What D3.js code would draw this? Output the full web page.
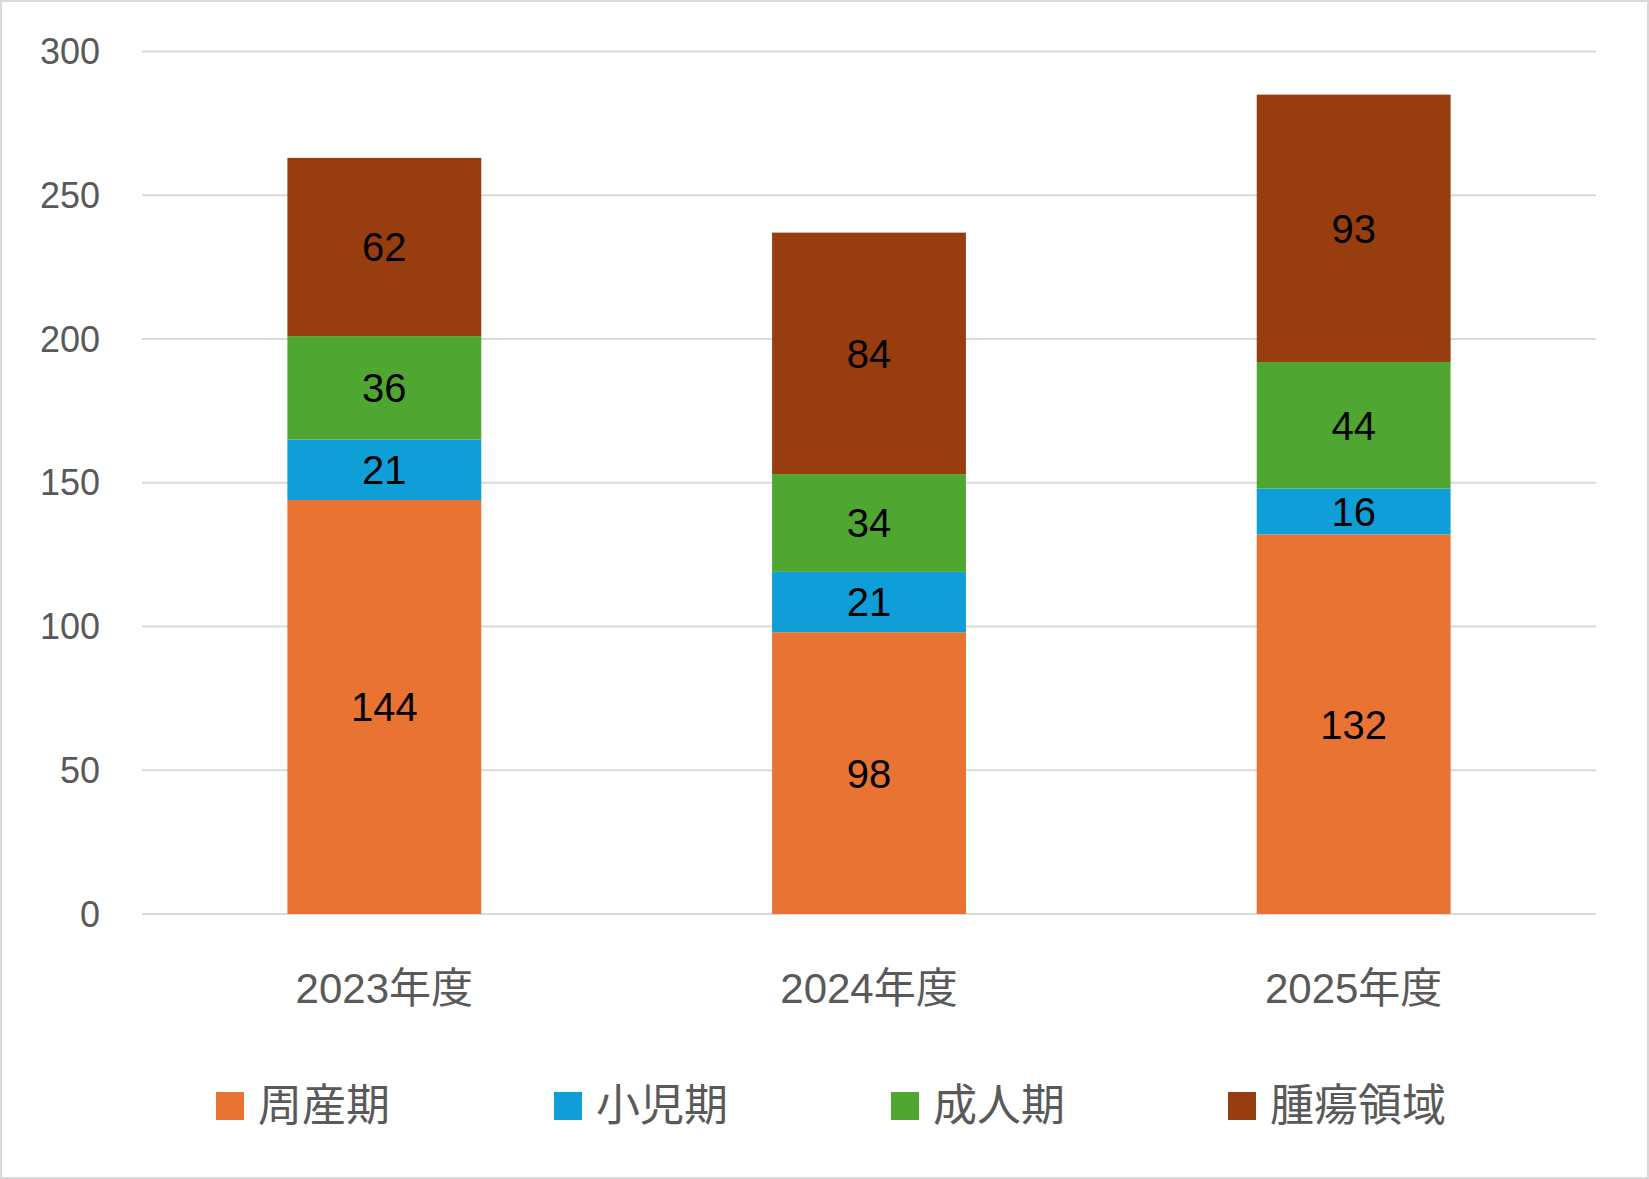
<!DOCTYPE html>
<html><head><meta charset="utf-8">
<script src="https://cdn.jsdelivr.net/npm/d3@7"></script>
<style>body{margin:0;background:#fff}svg{display:block}</style>
</head><body>
<svg id="chart" width="1649" height="1179"></svg>
<script>
var categories = ['2023年度', '2024年度', '2025年度'];
var seriesNames = ['周産期', '小児期', '成人期', '腫瘍領域'];
var seriesColors = ['#e97333', '#109ed8', '#4fa731', '#983d10'];
var perinatal = [144, 98, 132];
var pediatric = [21, 21, 16];
var adult = [36, 34, 44];
var oncology = [62, 84, 93];
var yTicks = [0, 50, 100, 150, 200, 250, 300];

var values = [perinatal, pediatric, adult, oncology];
var rows = categories.map(function(c, i) {
    var r = {cat: c};
    seriesNames.forEach(function(s, j) { r[s] = values[j][i]; });
    return r;
});

var svg = d3.select('#chart');
var font = "'Liberation Sans', Arial, 'Noto Sans CJK JP', sans-serif";

svg.append('rect').attr('x', 1).attr('y', 1).attr('width', 1647).attr('height', 1177)
    .attr('fill', '#fff').attr('stroke', '#d9d9d9').attr('stroke-width', 2);

var x = d3.scaleBand().domain(categories).range([142, 1596]).paddingInner(0.6).paddingOuter(0.3);
var y = d3.scaleLinear().domain([0, 300]).range([914, 51.5]);

// gridlines
svg.append('g').selectAll('line').data(yTicks).join('line')
    .attr('x1', 142).attr('x2', 1596)
    .attr('y1', function(d) { return y(d); }).attr('y2', function(d) { return y(d); })
    .attr('stroke', '#d9d9d9').attr('stroke-width', 2);

svg.append('g').selectAll('text').data(yTicks).join('text')
    .attr('x', 100).attr('y', function(d) { return y(d); }).attr('dy', '0.35em')
    .attr('text-anchor', 'end').attr('font-family', font).attr('font-size', 36).attr('fill', '#595959')
    .text(function(d) { return d; });

var stack = d3.stack().keys(seriesNames)(rows);

var layers = svg.append('g').selectAll('g').data(stack).join('g')
    .attr('fill', function(d, i) { return seriesColors[i]; });

layers.selectAll('rect').data(function(d) { return d; }).join('rect')
    .attr('x', function(d) { return x(d.data.cat); })
    .attr('width', x.bandwidth())
    .attr('y', function(d) { return y(d[1]); })
    .attr('height', function(d) { return y(d[0]) - y(d[1]); });

layers.selectAll('text').data(function(d) { return d.map(function(p) { p.key = d.key; return p; }); }).join('text')
    .attr('x', function(d) { return x(d.data.cat) + x.bandwidth() / 2; })
    .attr('y', function(d) { return (y(d[0]) + y(d[1])) / 2; })
    .attr('dy', '0.36em').attr('text-anchor', 'middle')
    .attr('font-family', font).attr('font-size', 40).attr('fill', '#000')
    .text(function(d) { return d.data[d.key]; });

svg.append('g').selectAll('text').data(categories).join('text')
    .attr('x', function(d) { return x(d) + x.bandwidth() / 2; }).attr('y', 988).attr('dy', '0.35em')
    .attr('text-anchor', 'middle').attr('font-family', font).attr('font-size', 42).attr('fill', '#595959')
    .text(function(d) { return d; });

var legendX = [216, 554, 891, 1228];
var leg = svg.append('g').selectAll('g').data(seriesNames).join('g')
    .attr('transform', function(d, i) { return 'translate(' + legendX[i] + ',1106)'; });
leg.append('rect').attr('x', 0).attr('y', -14).attr('width', 28).attr('height', 28)
    .attr('fill', function(d, i) { return seriesColors[i]; });
leg.append('text').attr('x', 42).attr('dy', '0.35em')
    .attr('font-family', font).attr('font-size', 44).attr('fill', '#595959')
    .text(function(d) { return d; });
</script>
</body></html>
